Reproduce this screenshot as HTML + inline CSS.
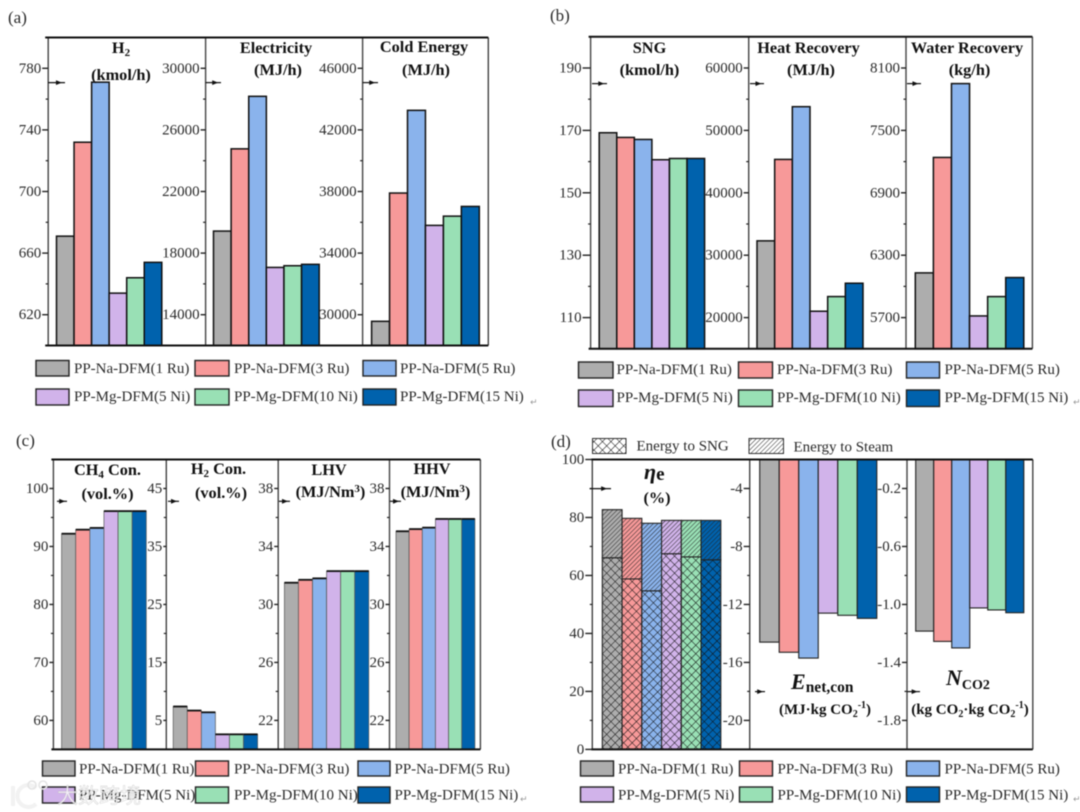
<!DOCTYPE html>
<html lang="en">
<head>
<meta charset="utf-8">
<title>PP-DFM performance comparison charts</title>
<style>
html,body{margin:0;padding:0;background:#fff;width:1080px;height:812px;overflow:hidden}
svg{display:block;filter:blur(.4px)}
text{font-family:"Liberation Serif","Noto Serif CJK SC",serif;fill:#2a2a2a}
.leg{font-size:15px}
.tick{font-size:15px}
.ttl{font-size:16.3px;font-weight:bold;fill:#111;text-anchor:middle}
.pl{font-size:17px}
.ret{font-size:9px;fill:#999;font-family:"DejaVu Sans",sans-serif}
.sw{stroke:#222;stroke-width:1.4}
</style>
</head>
<body>
<svg id="fig" xmlns="http://www.w3.org/2000/svg" width="1080" height="812" viewBox="0 0 1080 812">
<defs>
<pattern id="cross" width="6" height="6" patternUnits="userSpaceOnUse" patternTransform="rotate(45)">
<path d="M0,0V6M0,0H6" stroke="#111" stroke-width="1" fill="none"/>
</pattern>
<pattern id="diag" width="3.2" height="3.2" patternUnits="userSpaceOnUse" patternTransform="rotate(45)">
<path d="M0,0V3.2" stroke="#222" stroke-width="1" fill="none"/>
</pattern>
</defs>
<rect width="1080" height="812" fill="#fff"/>

<text class="pl" x="8" y="23">(a)</text>
<text class="pl" x="550" y="21">(b)</text>
<text class="pl" x="16" y="446">(c)</text>
<text class="pl" x="551" y="447">(d)</text>

<g id="charts"></g>

<g>
<text class="ttl" x="121" y="53">H<tspan font-size="11" dy="3">2</tspan></text>
<text class="ttl" x="121" y="80">(kmol/h)</text>
<text class="ttl" x="276" y="53">Electricity</text>
<text class="ttl" x="278" y="75">(MJ/h)</text>
<text class="ttl" x="424" y="52">Cold Energy</text>
<text class="ttl" x="426" y="75">(MJ/h)</text>
</g>
<g>
<text class="ttl" x="649.5" y="53">SNG</text>
<text class="ttl" x="649.5" y="75">(kmol/h)</text>
<text class="ttl" x="808.5" y="53">Heat Recovery</text>
<text class="ttl" x="811" y="75">(MJ/h)</text>
<text class="ttl" x="967" y="53">Water Recovery</text>
<text class="ttl" x="969.5" y="75">(kg/h)</text>
</g>
<g>
<text class="ttl" x="107.5" y="475">CH<tspan font-size="11" dy="3">4</tspan><tspan dy="-3"> Con.</tspan></text>
<text class="ttl" x="107.5" y="499">(vol.%)</text>
<text class="ttl" x="218.5" y="474">H<tspan font-size="11" dy="3">2</tspan><tspan dy="-3"> Con.</tspan></text>
<text class="ttl" x="221" y="498">(vol.%)</text>
<text class="ttl" x="329" y="475">LHV</text>
<text class="ttl" x="330.5" y="497">(MJ/Nm<tspan font-size="11" dy="-5">3</tspan><tspan dy="5">)</tspan></text>
<text class="ttl" x="432" y="474">HHV</text>
<text class="ttl" x="435.5" y="497">(MJ/Nm<tspan font-size="11" dy="-5">3</tspan><tspan dy="5">)</tspan></text>
</g>
<g>
<text x="644" y="479" font-size="22" font-weight="bold" style="fill:#111"><tspan font-style="italic">η</tspan><tspan font-size="19" dy="1">e</tspan></text>
<text class="ttl" x="657" y="503">(%)</text>
<text x="791" y="689" font-size="22" font-weight="bold" style="fill:#111"><tspan font-style="italic">E</tspan><tspan font-size="15.5" dy="3">net,con</tspan></text>
<text class="ttl" x="825" y="714" style="font-size:15px">(MJ·kg CO<tspan font-size="10" dy="3">2</tspan><tspan font-size="10" dy="-9">-1</tspan><tspan dy="6">)</tspan></text>
<text x="946" y="685" font-size="22" font-weight="bold" style="fill:#111"><tspan font-style="italic">N</tspan><tspan font-size="14" dy="4">CO2</tspan></text>
<text class="ttl" x="970" y="714" style="font-size:15px">(kg CO<tspan font-size="10" dy="3">2</tspan><tspan dy="-3">·kg CO</tspan><tspan font-size="10" dy="3">2</tspan><tspan font-size="10" dy="-9">-1</tspan><tspan dy="6">)</tspan></text>
</g>

<g>
<rect class="sw" x="36" y="360.5" width="33" height="15.5" fill="#adadad"/>
<text class="leg" x="74" y="373">PP-Na-DFM(1 Ru)</text>
<rect class="sw" x="195" y="360.5" width="34" height="15.5" fill="#f79999"/>
<text class="leg" x="234" y="373">PP-Na-DFM(3 Ru)</text>
<rect class="sw" x="363" y="360.5" width="33" height="15.5" fill="#8ab3ec"/>
<text class="leg" x="400" y="373">PP-Na-DFM(5 Ru)</text>
<rect class="sw" x="36" y="389" width="33" height="16" fill="#d1b3ea"/>
<text class="leg" x="74" y="401">PP-Mg-DFM(5 Ni)</text>
<rect class="sw" x="195" y="389" width="34" height="16" fill="#99e0b5"/>
<text class="leg" x="234" y="401">PP-Mg-DFM(10 Ni)</text>
<rect class="sw" x="363" y="389" width="33" height="16" fill="#0062ad"/>
<text class="leg" x="400" y="401">PP-Mg-DFM(15 Ni)</text>
<text class="ret" x="530" y="405">↵</text>
</g>
<g>
<rect class="sw" x="578.5" y="362" width="34.5" height="16" fill="#adadad"/>
<text class="leg" x="616.5" y="374">PP-Na-DFM(1 Ru)</text>
<rect class="sw" x="738.5" y="362" width="34" height="16" fill="#f79999"/>
<text class="leg" x="777" y="374">PP-Na-DFM(3 Ru)</text>
<rect class="sw" x="906.5" y="362" width="33" height="16" fill="#8ab3ec"/>
<text class="leg" x="944.5" y="374">PP-Na-DFM(5 Ru)</text>
<rect class="sw" x="578.5" y="390" width="34.5" height="16.5" fill="#d1b3ea"/>
<text class="leg" x="616.5" y="402">PP-Mg-DFM(5 Ni)</text>
<rect class="sw" x="738.5" y="390" width="34" height="16.5" fill="#99e0b5"/>
<text class="leg" x="777" y="402">PP-Mg-DFM(10 Ni)</text>
<rect class="sw" x="906.5" y="390" width="33" height="16.5" fill="#0062ad"/>
<text class="leg" x="944.5" y="402">PP-Mg-DFM(15 Ni)</text>
<text class="ret" x="1073" y="405">↵</text>
</g>
<g>
<rect class="sw" x="42.5" y="761" width="32.5" height="15" fill="#adadad"/>
<text class="leg" x="79" y="773.5">PP-Na-DFM(1 Ru)</text>
<rect class="sw" x="195.5" y="761" width="33" height="15" fill="#f79999"/>
<text class="leg" x="234" y="773.5">PP-Na-DFM(3 Ru)</text>
<rect class="sw" x="358" y="761" width="32" height="15" fill="#8ab3ec"/>
<text class="leg" x="394.5" y="773.5">PP-Na-DFM(5 Ru)</text>
<rect class="sw" x="42.5" y="787" width="32.5" height="16" fill="#d1b3ea"/>
<text class="leg" x="79" y="799.5">PP-Mg-DFM(5 Ni)</text>
<rect class="sw" x="195.5" y="787" width="33" height="16" fill="#99e0b5"/>
<text class="leg" x="234" y="799.5">PP-Mg-DFM(10 Ni)</text>
<rect class="sw" x="358" y="787" width="32" height="16" fill="#0062ad"/>
<text class="leg" x="394.5" y="799.5">PP-Mg-DFM(15 Ni)</text>
<text class="ret" x="520" y="802">↵</text>
</g>
<g>
<rect class="sw" x="580.5" y="761" width="33" height="15" fill="#adadad"/>
<text class="leg" x="618" y="773.5">PP-Na-DFM(1 Ru)</text>
<rect class="sw" x="739.5" y="761" width="33" height="15" fill="#f79999"/>
<text class="leg" x="777.5" y="773.5">PP-Na-DFM(3 Ru)</text>
<rect class="sw" x="906.5" y="761" width="33" height="15" fill="#8ab3ec"/>
<text class="leg" x="944.5" y="773.5">PP-Na-DFM(5 Ru)</text>
<rect class="sw" x="580.5" y="787" width="33" height="15" fill="#d1b3ea"/>
<text class="leg" x="618" y="799.5">PP-Mg-DFM(5 Ni)</text>
<rect class="sw" x="739.5" y="787" width="33" height="15" fill="#99e0b5"/>
<text class="leg" x="777.5" y="799.5">PP-Mg-DFM(10 Ni)</text>
<rect class="sw" x="906.5" y="787" width="33" height="15" fill="#0062ad"/>
<text class="leg" x="944.5" y="799.5">PP-Mg-DFM(15 Ni)</text>
<text class="ret" x="1073" y="802">↵</text>
</g>
<g>
<rect x="592.5" y="438.5" width="33.5" height="15" fill="url(#cross)" stroke="#333" stroke-width="1"/>
<text class="leg" x="636.5" y="450.5">Energy to SNG</text>
<rect x="749" y="438.5" width="34.5" height="15" fill="url(#diag)" stroke="#333" stroke-width="1"/>
<text class="leg" x="793.5" y="451.5">Energy to Steam</text>
</g>
<g>
<path d="M13,786 V806 M36,788 A11,11 0 1,0 36,804" fill="none" stroke="#f2f2f2" stroke-width="4"/>
<circle cx="32" cy="785" r="4" fill="none" stroke="#e4e4e4" stroke-width="1.6"/>
<circle cx="43" cy="785" r="4" fill="none" stroke="#e4e4e4" stroke-width="1.6"/>
<text x="57" y="803" font-size="21" style="font-family:'Noto Sans CJK SC',sans-serif;fill:#fff;stroke:#bbb;stroke-width:.4;opacity:.8">大数跨境</text>
</g>
</svg>

<script>
// Categories and series colours
const categories = ['PP-Na-DFM(1 Ru)','PP-Na-DFM(3 Ru)','PP-Na-DFM(5 Ru)','PP-Mg-DFM(5 Ni)','PP-Mg-DFM(10 Ni)','PP-Mg-DFM(15 Ni)'];
const seriesColors = ['#adadad','#f79999','#8ab3ec','#d1b3ea','#99e0b5','#0062ad'];

// Panel (a)
const h2Values = [671,732,771,634,644,654];
const h2Domain = [600,800];
const h2Ticks = ['620','660','700','740','780'];
const electricityValues = [19430,24770,28180,17070,17180,17270];
const electricityDomain = [12000,32000];
const electricityTicks = ['14000','18000','22000','26000','30000'];
const coldEnergyValues = [29570,37900,43270,35800,36400,37030];
const coldEnergyDomain = [28000,48000];
const coldEnergyTicks = ['30000','34000','38000','42000','46000'];

// Panel (b)
const sngValues = [169.25,167.75,167.1,160.6,161,161];
const sngDomain = [100,200];
const sngTicks = ['110','130','150','170','190'];
const heatValues = [32300,45350,53800,21020,23370,25510];
const heatDomain = [15000,65000];
const heatTicks = ['20000','30000','40000','50000','60000'];
const waterValues = [6130,7240,7950,5716,5902,6085];
const waterDomain = [5400,8400];
const waterTicks = ['5700','6300','6900','7500','8100'];

// Panel (c)
const ch4Values = [92.2,92.9,93.2,96.1,96.1,96.1];
const ch4Domain = [55,105];
const ch4Ticks = ['60','70','80','90','100'];
const h2ConValues = [7.4,6.7,6.4,2.6,2.6,2.6];
const h2ConDomain = [0,50];
const h2ConTicks = ['5','15','25','35','45'];
const lhvValues = [31.5,31.7,31.8,32.3,32.3,32.3];
const lhvDomain = [20,40];
const lhvTicks = ['22','26','30','34','38'];
const hhvValues = [35.05,35.2,35.3,35.9,35.9,35.9];
const hhvDomain = [20,40];
const hhvTicks = ['22','26','30','34','38'];

// Panel (d)
const energyToSngValues = [66.1,58.8,54.7,67.5,66.4,65.4];
const energyToSteamValues = [16.6,20.9,23.3,11.5,12.6,13.6];
const efficiencyDomain = [0,100];
const efficiencyTicks = ['0','20','40','60','80','100'];
const energyConsumptionValues = [-14.6,-15.3,-15.7,-12.6,-12.75,-12.96];
const energyConsumptionDomain = [-22,-2];
const energyConsumptionTicks = ['-20','-16','-12','-8','-4'];
const co2Values = [-1.184,-1.255,-1.3,-1.024,-1.038,-1.057];
const co2Domain = [-2,0];
const co2Ticks = ['-1.8','-1.4','-1.0','-0.6','-0.2'];

const SVGNS = 'http://www.w3.org/2000/svg';
const root = document.getElementById('charts');

function make(tag, props, parent) {
  const el = document.createElementNS(SVGNS, tag);
  for (const k in props) el.setAttribute(k, props[k]);
  (parent || root).appendChild(el);
  return el;
}

function yScale(domain, frame) {
  return function (v) {
    return frame.bottom - (v - domain[0]) / (domain[1] - domain[0]) * (frame.bottom - frame.top);
  };
}

function drawFrame(name, frame, dividers, overhang) {
  const g = make('g', {});
  
  
  dividers.forEach(function (x) {
    const v = make('line', {x1: x, x2: x, y1: frame.top, y2: frame.bottom, stroke: '#444', 'stroke-width': 1.4}, g);
    
    
  });
  const left = dividers[0] - overhang;
  const right = dividers[dividers.length - 1];
  const top = make('line', {x1: left, x2: right, y1: frame.top, y2: frame.top, stroke: '#111', 'stroke-width': 2}, g);
  
  
  const bottom = make('line', {x1: left, x2: right, y1: frame.bottom, y2: frame.bottom, stroke: '#111', 'stroke-width': 2}, g);
  
  
}

function drawAxis(name, axisX, tickLen, frame, domain, ticks) {
  const y = yScale(domain, frame);
  const g = make('g', {});
  
  
  const values = ticks.map(Number);
  values.forEach(function (v, i) {
    const t = make('line', {x1: axisX - tickLen, x2: axisX, y1: y(v), y2: y(v), stroke: '#222', 'stroke-width': 1.4}, g);
    
    
    const label = make('text', {class: 'tick', x: axisX - tickLen - 1, y: y(v) + 4.5, 'text-anchor': 'end'}, g);
    
    
    label.textContent = ticks[i];
    if (i < values.length - 1) {
      const my = y((v + values[i + 1]) / 2);
      const m = make('line', {x1: axisX - 2.5, x2: axisX, y1: my, y2: my, stroke: '#222', 'stroke-width': 1.2}, g);
      
      
    }
  });
}

function drawArrow(name, x1, x2, yPos) {
  const g = make('g', {});
  
  
  make('line', {x1: x1, x2: x2, y1: yPos, y2: yPos, stroke: '#111', 'stroke-width': 1.2}, g);
  const tip = x1 + (x2 - x1) * 0.82;
  make('polygon', {points: (tip - 6) + ',' + (yPos - 2.4) + ' ' + tip + ',' + yPos + ' ' + (tip - 6) + ',' + (yPos + 2.4), fill: '#111'}, g);
}

function drawBars(name, values, domain, frame, x0, x1, style) {
  const y = yScale(domain, frame);
  const w = (x1 - x0) / values.length;
  const g = make('g', {});
  
  
  values.forEach(function (v, i) {
    const py = y(v);
    const hanging = style.hanging;
    const ry = hanging ? frame.top : py;
    const rh = hanging ? py - frame.top : frame.bottom - py;
    const bar = make('rect', {x: x0 + i * w, y: ry, width: w, height: rh, fill: seriesColors[i], stroke: style.stroke, 'stroke-width': style.width}, g);
    
    
    const tip = document.createElementNS(SVGNS, 'title');
    tip.textContent = categories[i] + ': ' + v;
    bar.appendChild(tip);
    if (style.capWidth) {
      const cap = make('line', {x1: x0 + i * w, x2: x0 + (i + 1) * w, y1: py, y2: py, stroke: '#111', 'stroke-width': style.capWidth}, g);
      
      
    }
  });
}

function drawStacked(name, lower, upper, domain, frame, x0, x1) {
  const y = yScale(domain, frame);
  const w = (x1 - x0) / lower.length;
  const g = make('g', {});
  
  
  lower.forEach(function (v, i) {
    const yLow = y(v);
    const yTop = y(v + upper[i]);
    const x = x0 + i * w;
    const base = make('rect', {x: x, y: yLow, width: w, height: frame.bottom - yLow, fill: seriesColors[i], stroke: '#222', 'stroke-width': 1.1}, g);
    
    
    const baseHatch = make('rect', {x: x, y: yLow, width: w, height: frame.bottom - yLow, fill: 'url(#cross)'}, g);
    
    
    const steam = make('rect', {x: x, y: yTop, width: w, height: yLow - yTop, fill: seriesColors[i], stroke: '#222', 'stroke-width': 1.1}, g);
    
    
    const steamHatch = make('rect', {x: x, y: yTop, width: w, height: yLow - yTop, fill: 'url(#diag)'}, g);
    
    
  });
}

const frameA = {top: 37.5, bottom: 345.5};
const frameB = {top: 36.8, bottom: 348.8};
const frameC = {top: 459.5, bottom: 749.4};
const frameD = {top: 459.5, bottom: 749.4};
const solidBar = {stroke: '#111', width: 1.5};
const thinCapBar = {stroke: '#555', width: 0.7, capWidth: 1.8};
const hangBar = {stroke: '#222', width: 1.1, hanging: true};

// Panel (a)
drawBars('h2', h2Values, h2Domain, frameA, 56.5, 161.8, solidBar);
drawBars('electricity', electricityValues, electricityDomain, frameA, 213.5, 319.2, solidBar);
drawBars('cold-energy', coldEnergyValues, coldEnergyDomain, frameA, 371.6, 479.3, solidBar);
drawFrame('panel-a', frameA, [48.2, 205.6, 362.6, 488.3], 3);
drawAxis('h2', 48.2, 6, frameA, h2Domain, h2Ticks);
drawAxis('electricity', 205.6, 5, frameA, electricityDomain, electricityTicks);
drawAxis('cold-energy', 362.6, 5, frameA, coldEnergyDomain, coldEnergyTicks);
drawArrow('h2', 48.2, 65, 82.6);
drawArrow('electricity', 205.6, 221, 82.6);
drawArrow('cold-energy', 362.6, 378, 82.6);

// Panel (b)
drawBars('sng', sngValues, sngDomain, frameB, 599.2, 704.6, solidBar);
drawBars('heat-recovery', heatValues, heatDomain, frameB, 757, 863, solidBar);
drawBars('water-recovery', waterValues, waterDomain, frameB, 915.3, 1023.8, solidBar);
drawFrame('panel-b', frameB, [590.6, 748.7, 906, 1032.4], 2);
drawAxis('sng', 590.6, 8, frameB, sngDomain, sngTicks);
drawAxis('heat-recovery', 748.7, 5, frameB, heatDomain, heatTicks);
drawAxis('water-recovery', 906, 5, frameB, waterDomain, waterTicks);
drawArrow('sng', 592, 607, 83.6);
drawArrow('heat-recovery', 750, 764, 83.6);
drawArrow('water-recovery', 907, 921, 83.6);

// Panel (c)
drawBars('ch4', ch4Values, ch4Domain, frameC, 61.6, 146.3, thinCapBar);
drawBars('h2-con', h2ConValues, h2ConDomain, frameC, 173.2, 257.6, thinCapBar);
drawBars('lhv', lhvValues, lhvDomain, frameC, 284.4, 368.8, thinCapBar);
drawBars('hhv', hhvValues, hhvDomain, frameC, 396, 474.9, thinCapBar);
drawFrame('panel-c', frameC, [53.4, 166.3, 278.2, 389.5, 480.4], 2);
drawAxis('ch4', 53.4, 4, frameC, ch4Domain, ch4Ticks);
drawAxis('h2-con', 166.3, 3, frameC, h2ConDomain, h2ConTicks);
drawAxis('lhv', 278.2, 4, frameC, lhvDomain, lhvTicks);
drawAxis('hhv', 389.5, 4, frameC, hhvDomain, hhvTicks);
drawArrow('ch4', 57, 67, 501.3);
drawArrow('h2-con', 168, 179, 501.3);
drawArrow('lhv', 279, 290, 501.3);
drawArrow('hhv', 390, 401, 501.3);

// Panel (d)
drawStacked('efficiency', energyToSngValues, energyToSteamValues, efficiencyDomain, frameD, 602.3, 720.8);
drawBars('energy-consumption', energyConsumptionValues, energyConsumptionDomain, frameD, 759.7, 876.8, hangBar);
drawBars('co2', co2Values, co2Domain, frameD, 915.7, 1023.8, hangBar);
drawFrame('panel-d', frameD, [592.3, 749.7, 907, 1032.8], 1);
drawAxis('efficiency', 592.3, 7, frameD, efficiencyDomain, efficiencyTicks);
drawAxis('energy-consumption', 749.7, 6, frameD, energyConsumptionDomain, energyConsumptionTicks);
drawAxis('co2', 907, 5, frameD, co2Domain, co2Ticks);
drawArrow('efficiency', 589.6, 611, 488.6);
drawArrow('energy-consumption', 755, 765, 691.6);
drawArrow('co2', 907, 920, 691.6);
</script>
</body>
</html>
